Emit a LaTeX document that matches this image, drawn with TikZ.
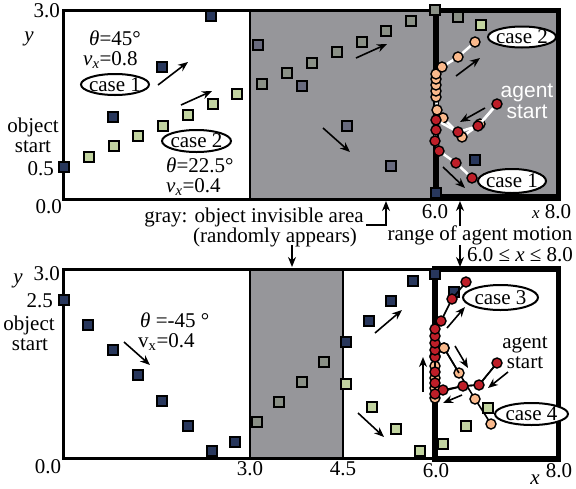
\documentclass[tikz,border=0pt]{standalone}
\usepackage{fontspec}
\setmainfont{Liberation Serif}
\setsansfont{Liberation Sans}
\usetikzlibrary{arrows.meta,shapes.geometric}
\definecolor{objblue}{RGB}{40,55,92}
\definecolor{objgreen}{RGB}{194,212,160}
\definecolor{ggreen}{RGB}{138,144,134}
\definecolor{gblue}{RGB}{104,106,126}
\definecolor{grayfill}{RGB}{150,150,154}
\definecolor{agred}{RGB}{190,30,40}
\definecolor{agpeach}{RGB}{250,185,140}
\newcommand\lblfont{\fontsize{21}{19}\selectfont}
\tikzset{
  sq/.style={rectangle, draw=black, line width=2pt, minimum size=9.5pt, inner sep=0pt},
  sqB/.style={sq, fill=objblue},
  sqG/.style={sq, fill=objgreen},
  sqGG/.style={sq, fill=ggreen},
  sqGB/.style={sq, fill=gblue},
  agR/.style={circle, draw=black, line width=1.4pt, fill=agred, minimum size=10pt, inner sep=0pt},
  agP/.style={agR, fill=agpeach},
  arr/.style={-{Stealth[length=10pt,width=8pt]}, line width=1.6pt},
  caseell/.style={ellipse, draw=black, line width=2pt, fill=white, inner sep=0pt},
  lbl/.style={font=\lblfont, inner sep=0pt},
  wline/.style={white, line width=2.5pt},
  bline/.style={black, line width=1.6pt}
}
\begin{document}
\begin{tikzpicture}[x=1pt,y=-1pt]
\useasboundingbox[fill=white] (0,0) rectangle (576,488);

% ---------------- top panel ----------------
\fill[grayfill] (250,10) rectangle (559,199);
\draw[line width=2pt] (250,10) -- (250,199);
\draw[line width=3pt] (63,10) rectangle (559,199);
\draw[line width=5.5pt] (436,10.5) rectangle (558.5,197);

% squares
\foreach \n/\x/\y in {1/64/167,2/113/117,3/162/67,4/211/16,5/436/193,6/475/160}
  \node[sqB] (tb\n) at (\x,\y) {};
\foreach \n/\x/\y in {1/258/45,2/302/86,3/347/126,4/391/166}
  \node[sqGB] (tgb\n) at (\x,\y) {};
\foreach \n/\x/\y in {1/89/157,2/114/146,3/138/136,4/163/126,5/188/115,6/213/104,7/237/94,8/481/25}
  \node[sqG] (tg\n) at (\x,\y) {};
\foreach \n/\x/\y in {1/262/84,2/287/73,3/312/63,4/337/52,5/362/42,6/386/31,7/411/21,8/435/10,9/458/17}
  \node[sqGG] (tgg\n) at (\x,\y) {};

% agent case 2 (peach)
\draw[wline] (497,104) -- (480,124) -- (462,137) -- (443,118) -- (437,110) -- (436,97) -- (436,74) -- (442,67) -- (458,57) -- (475,42);
\foreach \n/\x/\y in {1/480/124,2/462/137,3/443/118,4/437/110,5/436/97,6/436/91,7/436/85,8/436/79,9/436/74,10/442/67,11/458/57,12/475/42}
  \node[agP] (tp\n) at (\x,\y) {};
% agent case 1 (red)
\draw[wline] (497,104) -- (478,126) -- (458,132) -- (436,120) -- (436,130) -- (435,141) -- (439,151) -- (456,163) -- (472,178);
\foreach \n/\x/\y in {1/497/104,2/478/126,3/458/132,4/436/120,5/436/130,6/435/141,7/439/151,8/456/163,9/472/178}
  \node[agR] (tr\n) at (\x,\y) {};

% arrows top
\draw[arr] (158,85) -- (188,62);
\draw[arr] (181,105) -- (212,91);
\draw[arr] (356,58) -- (387,44);
\draw[arr] (323,128) -- (350,152);
\draw[arr] (456,76) -- (480,58);
\draw[arr] (485,108) -- (460,122);
\draw[arr] (443,167) -- (465,188);

% case ellipses top
\node[caseell, minimum width=68pt, minimum height=21pt] (c1) at (115,84.5) {};
\node[lbl] (c1t) at (c1) {case 1};
\node[caseell, minimum width=69pt, minimum height=22pt] (c2) at (196.5,141) {};
\node[lbl] (c2t) at (c2) {case 2};
\node[caseell, minimum width=68pt, minimum height=21pt] (c2r) at (522,37) {};
\node[lbl] (c2rt) at (c2r) {case 2};
\node[caseell, minimum width=68pt, minimum height=24pt] (c1r) at (512,181) {};
\node[lbl] (c1rt) at (c1r) {case 1};

% texts top
\node[lbl, anchor=base east] (t30) at (60,17) {3.0};
\node[lbl, anchor=base] (ty) at (29,41) {\itshape y};
\node[lbl, anchor=base] (tob1) at (33,132) {object};
\node[lbl, anchor=base] (tob2) at (33,152) {start};
\node[lbl, anchor=base east] (t05) at (54,175) {0.5};
\node[lbl, anchor=base east] (t00) at (62,213) {0.0};
\node[lbl, anchor=base west] (tth1) at (89,45) {{\itshape θ}=45°};
\node[lbl, anchor=base west] (tvx1) at (83,65) {{\itshape v\textsubscript{x}}=0.8};
\node[lbl, anchor=base west] (tth2) at (166,172) {{\itshape θ}=22.5°};
\node[lbl, anchor=base west] (tvx2) at (166,192) {{\itshape v\textsubscript{x}}=0.4};
\node[lbl, anchor=base, text=white, font=\sffamily\lblfont] (tag1) at (527,97) {agent};
\node[lbl, anchor=base, text=white, font=\sffamily\lblfont] (tag2) at (527,118) {start};
\node[lbl, anchor=base] (t60) at (435,218) {6.0};
\node[lbl, anchor=base] (t80) at (558,218) {8.0};
\node[lbl, anchor=base, font=\fontsize{17}{17}\selectfont] (tx) at (536,218) {\itshape x};

% middle annotations
\node[lbl, anchor=base] (gr1) at (254,222) {gray: object invisible area};
\node[lbl, anchor=base] (gr2) at (275,242) {(randomly appears)};
\draw[arr] (366,225) -- (386,225) -- (386,201);
\draw[arr] (292,245) -- (292,267);
\node[lbl, anchor=base] (rg1) at (480,240) {range of agent motion};
\node[lbl, anchor=base] (rg2) at (520,261) {6.0 ≤ {\itshape x} ≤ 8.0};
\draw[arr] (460,226) -- (460,201);
\draw[arr] (460,245) -- (460,267);

% ---------------- bottom panel ----------------
\fill[grayfill] (250,269) rectangle (343,458);
\draw[line width=2pt] (250,269) -- (250,458) (343,269) -- (343,458);
\draw[line width=3pt] (63,269) rectangle (559,458);
\draw[line width=5.5pt] (435,269) rectangle (558.5,459);

\foreach \n/\x/\y in {1/64/300,2/88/325,3/113/350,4/138/375,5/162/401,6/188/426,7/212/451,8/235/442,9/346/342,10/369/321,11/391/301,12/413/281,13/435/274,14/454/292}
  \node[sqB] (bb\n) at (\x,\y) {};
\foreach \n/\x/\y in {1/257/422,2/279/402,3/302/382,4/324/362}
  \node[sqGG] (bgg\n) at (\x,\y) {};
\foreach \n/\x/\y in {1/346/384,2/372/407,3/396/429,4/420/451,5/443/444,6/466/426,7/488/408}
  \node[sqG] (bg\n) at (\x,\y) {};

% agent case 4 (peach)
\draw[bline] (497,363) -- (479,385) -- (463,386) -- (443,391) -- (435,398) -- (435,356) -- (444,348) -- (459,373) -- (475,399) -- (491,424);
\foreach \n/\x/\y in {1/435/398,2/435/388,3/435/378,4/435/366,5/435/356,6/444/348,7/459/373,8/475/399,9/491/424}
  \node[agP] (bp\n) at (\x,\y) {};
% agent case 3 (red)
\draw[bline] (497,363) -- (479,385) -- (463,386) -- (443,390) -- (435,394) -- (435,329) -- (441,321) -- (452,299) -- (466,282);
\draw[bline] (444,348) -- (459,373);
\foreach \n/\x/\y in {1/497/363,2/479/385,3/463/386,4/443/390,5/435/394,6/435/383,7/435/372,8/435/357,9/435/350,10/435/343,11/435/336,12/435/329,13/441/321,14/452/299,15/466/282}
  \node[agR] (br\n) at (\x,\y) {};
\node[agP] (bp6b) at (444,348) {};

% arrows bottom
\draw[arr] (124,342) -- (150,365);
\draw[arr] (375,333) -- (402,310);
\draw[arr] (358,413) -- (384,437);
\draw[arr] (423,392) -- (423,357);
\draw[arr] (447,328) -- (465,307);
\draw[arr] (455,346) -- (468,368);
\draw[arr] (508,372) -- (488,388);
\draw[arr] (462,395) -- (443,403);

% case ellipses bottom
\node[caseell, minimum width=75pt, minimum height=25pt] (c3) at (500.5,297.5) {};
\node[lbl] (c3t) at (c3) {case 3};
\node[caseell, minimum width=73pt, minimum height=22pt] (c4) at (531.5,414) {};
\node[lbl] (c4t) at (c4) {case 4};

% texts bottom
\node[lbl, anchor=base] (by) at (18,283) {\itshape y};
\node[lbl, anchor=base east] (b30) at (60,280) {3.0};
\node[lbl, anchor=base east] (b25) at (53,307) {2.5};
\node[lbl, anchor=base] (bob1) at (29,330) {object};
\node[lbl, anchor=base] (bob2) at (30,350) {start};
\node[lbl, anchor=base] (b00) at (48,473) {0.0};
\node[lbl, anchor=base west] (bth) at (140,327) {{\itshape θ} =-45 °};
\node[lbl, anchor=base west] (bvx) at (138,347) {v\textsubscript{x}=0.4};
\node[lbl, anchor=base] (bx30) at (250,475) {3.0};
\node[lbl, anchor=base] (bx45) at (343,475) {4.5};
\node[lbl, anchor=base] (bx60) at (436,477) {6.0};
\node[lbl, anchor=base] (bx80) at (559,477) {8.0};
\node[lbl, anchor=base] (bxx) at (535,484) {\itshape x};
\node[lbl, anchor=base] (bag1) at (525,348) {agent};
\node[lbl, anchor=base] (bag2) at (525,368) {start};
\end{tikzpicture}
\end{document}
